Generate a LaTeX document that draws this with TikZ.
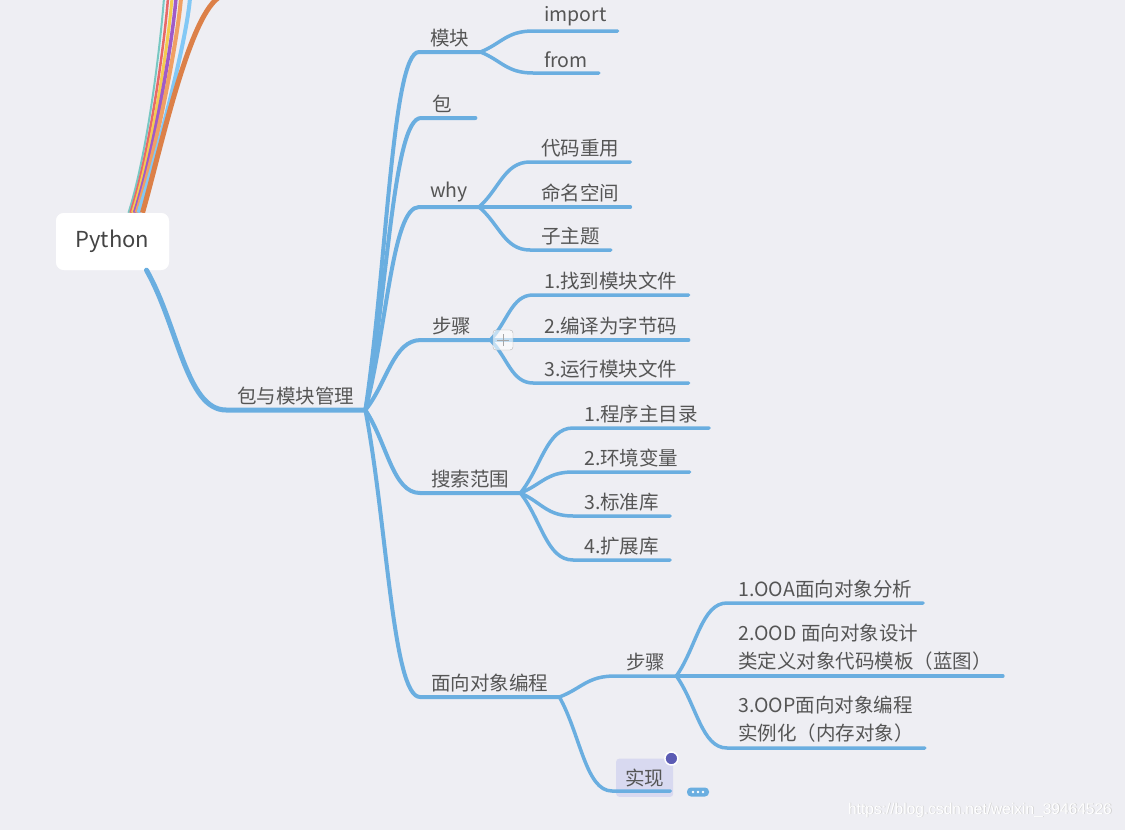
\documentclass[tikz,border=0pt]{standalone}
\usepackage{fontspec}
\newfontfamily\cjk{Noto Sans CJK SC}
\newfontfamily\wmfont{Liberation Sans}
\usetikzlibrary{calc}
\definecolor{bgcol}{RGB}{238,238,243}
\definecolor{limbcol}{RGB}{106,174,224}
\definecolor{txtcol}{RGB}{85,85,85}
\definecolor{selcol}{RGB}{216,217,240}
\definecolor{dotcol}{RGB}{92,92,180}
\definecolor{tealc}{RGB}{120,200,195}
\definecolor{redc}{RGB}{232,104,104}
\definecolor{yellowc}{RGB}{244,204,80}
\definecolor{purplec}{RGB}{160,90,200}
\definecolor{lorangec}{RGB}{240,160,100}
\definecolor{lbluec}{RGB}{130,200,245}
\definecolor{orangec}{RGB}{220,128,72}
\begin{document}
\begin{tikzpicture}%
	[x=1pt, y=-1pt,
	root/.style={fill=white, rounded corners=8pt, minimum width=113pt, minimum height=57pt,
		font=\cjk\fontsize{22}{26}\selectfont, text={rgb,255:red,68;green,68;blue,68}},
	topic/.style={anchor=south west, inner xsep=11pt, inner ysep=5pt, align=left,
		font=\cjk\fontsize{19.5}{28}\selectfont, text=txtcol},
	selected/.style={topic, fill=selcol, rounded corners=3pt, inner xsep=9pt, inner ysep=10pt},
	trunk/.style={draw=limbcol, line width=5pt, line cap=round},
	branch/.style={draw=limbcol, line width=4pt, line cap=round},
	twig/.style={draw=limbcol, line width=3.5pt, line cap=round},
	limb/.style={to path={.. controls ($(\tikztostart)!0.4!(\tikztotarget)$)
		and ($(\tikztostart|-\tikztotarget)!0.5!(\tikztotarget)$) .. (\tikztotarget)}},
	foldbox/.style={draw=black!30, fill=white, fill opacity=0.6, rounded corners=3pt,
		minimum size=20pt, inner sep=0pt},
	seldot/.style={circle, draw=white, line width=1.5pt, fill=dotcol, minimum size=13pt, inner sep=0pt},
	pill/.style={fill=limbcol, rounded corners=4pt, minimum width=22pt, minimum height=9pt, inner sep=0pt},
	wm/.style={font=\wmfont\fontsize{15.5}{15.5}\selectfont}]
%
\useasboundingbox (0,0) rectangle (1125,830);
\fill[bgcol] (0,0) rectangle (1125,830);
\clip (0,0) rectangle (1125,830);
%%
%% root
%%
\node[root] (pybox) at (112.5,241.5) {};
\foreach \col/\dx/\tx/\w in {tealc/16/164/2, redc/18/168/2.5, yellowc/20/172/3,
		purplec/22/176/3.5, lorangec/24/181/4, lbluec/26/190/4}
	\draw[draw=\col, line width=\w pt] ([xshift=\dx pt]pybox.north) .. controls +(20,-63) and +(-3,40) .. (\tx,-2);
\draw[draw=orangec, line width=5pt] ([xshift=30pt]pybox.north) .. controls +(18,-63) and +(-30,22) .. (218,-2);
\node[root] (py) at (112.5,241.5) {\raisebox{-2pt}{Python}};
%%
%% topics
%%
\node[topic] (pkg) at (226,410) {包与模块管理};
\node[topic] (mk) at (419,52) {模块};
\node[topic] (imp) at (533,31) {import};
\node[topic] (frm) at (533,73) {from};
\node[topic, text width=32pt] (bao) at (421,118) {包};
\node[topic] (why) at (419,207) {why};
\node[topic] (reuse) at (530,162) {代码重用};
\node[topic] (ns) at (530,207) {命名空间};
\node[topic] (sub) at (530,250) {子主题};
\node[topic, text width=47pt] (bz) at (421,340) {步骤};
\node[topic] (find) at (533,295) {1.找到模块文件};
\node[topic] (comp) at (533,340) {2.编译为字节码};
\node[topic] (run) at (533,383) {3.运行模块文件};
\node[topic] (ss) at (420,493) {搜索范围};
\node[topic] (home) at (573,428) {1.程序主目录};
\node[topic] (env) at (573,472) {2.环境变量};
\node[topic] (std) at (573,516) {3.标准库};
\node[topic] (ext) at (573,560) {4.扩展库};
\node[topic] (oo) at (420,697) {面向对象编程};
\node[topic] (bzb) at (615,676) {步骤};
\node[topic] (ooa) at (727,603) {1.OOA面向对象分析};
\node[topic] (ood) at (727,676) {2.OOD 面向对象设计\\类定义对象代码模板（蓝图）};
\node[topic] (oop) at (727,748) {3.OOP面向对象编程\\实例化（内存对象）};
\node[selected] (sx) at (616,797) {实现};
%%
%% connectors
%%
\draw[trunk] ([xshift=34pt]py.south) to[limb] (pkg.south west) -- (pkg.south east);
\draw[branch] (pkg.south east) to[limb] (mk.south west) -- (mk.south east);
\draw[branch] (pkg.south east) to[limb] (bao.south west) -- (bao.south east);
\draw[branch] (pkg.south east) to[limb] (why.south west) -- (why.south east);
\draw[branch] (pkg.south east) to[limb] (bz.south west) -- (bz.south east);
\draw[branch] (pkg.south east) to[limb] (ss.south west) -- (ss.south east);
\draw[branch] (pkg.south east) to[limb] (oo.south west) -- (oo.south east);
%
\draw[twig] (mk.south east) to[limb] (imp.south west) -- (imp.south east);
\draw[twig] (mk.south east) to[limb] (frm.south west) -- (frm.south east);
\draw[twig] (why.south east) to[limb] (reuse.south west) -- (reuse.south east);
\draw[twig] (why.south east) to[limb] (ns.south west) -- (ns.south east);
\draw[twig] (why.south east) to[limb] (sub.south west) -- (sub.south east);
\draw[twig] (bz.south east) to[limb] (find.south west) -- (find.south east);
\draw[twig] (bz.south east) to[limb] (comp.south west) -- (comp.south east);
\draw[twig] (bz.south east) to[limb] (run.south west) -- (run.south east);
\draw[twig] (ss.south east) to[limb] (home.south west) -- (home.south east);
\draw[twig] (ss.south east) to[limb] (env.south west) -- (env.south east);
\draw[twig] (ss.south east) to[limb] (std.south west) -- (std.south east);
\draw[twig] (ss.south east) to[limb] (ext.south west) -- (ext.south east);
\draw[twig] (oo.south east) to[limb] (bzb.south west) -- (bzb.south east);
\draw[twig] (oo.south east) to[limb] ([yshift=6pt,xshift=-4pt]sx.south west) -- ([yshift=6pt,xshift=-3pt]sx.south east);
\draw[twig] (bzb.south east) to[limb] (ooa.south west) -- (ooa.south east);
\draw[twig] (bzb.south east) to[limb] (ood.south west) -- (ood.south east);
\draw[twig] (bzb.south east) to[limb] (oop.south west) -- (oop.south east);
%%
%% markers
%%
\node[foldbox] (bzfold) at (503,340) {};
\draw[black!35, line width=1pt] ([xshift=-6pt]bzfold.center) -- ([xshift=6pt]bzfold.center);
\draw[black!35, line width=1pt] ([yshift=-6pt]bzfold.center) -- ([yshift=6pt]bzfold.center);
\node[seldot] (sxdot) at ([xshift=-2pt]sx.north east) {};
\node[pill] (sxmore) at (698,792) {};
\foreach \d in {-5,0,5}
	\fill[white] ([xshift=\d pt]sxmore.center) circle (1.3pt);
%%
%% watermark
%%
\node[wm, text=black!18] (markshade) at (980.8,810.8) {https://blog.csdn.net/weixin\_39464526};
\node[wm, text=white] (mark) at (980,810) {https://blog.csdn.net/weixin\_39464526};
\end{tikzpicture}
\end{document}
